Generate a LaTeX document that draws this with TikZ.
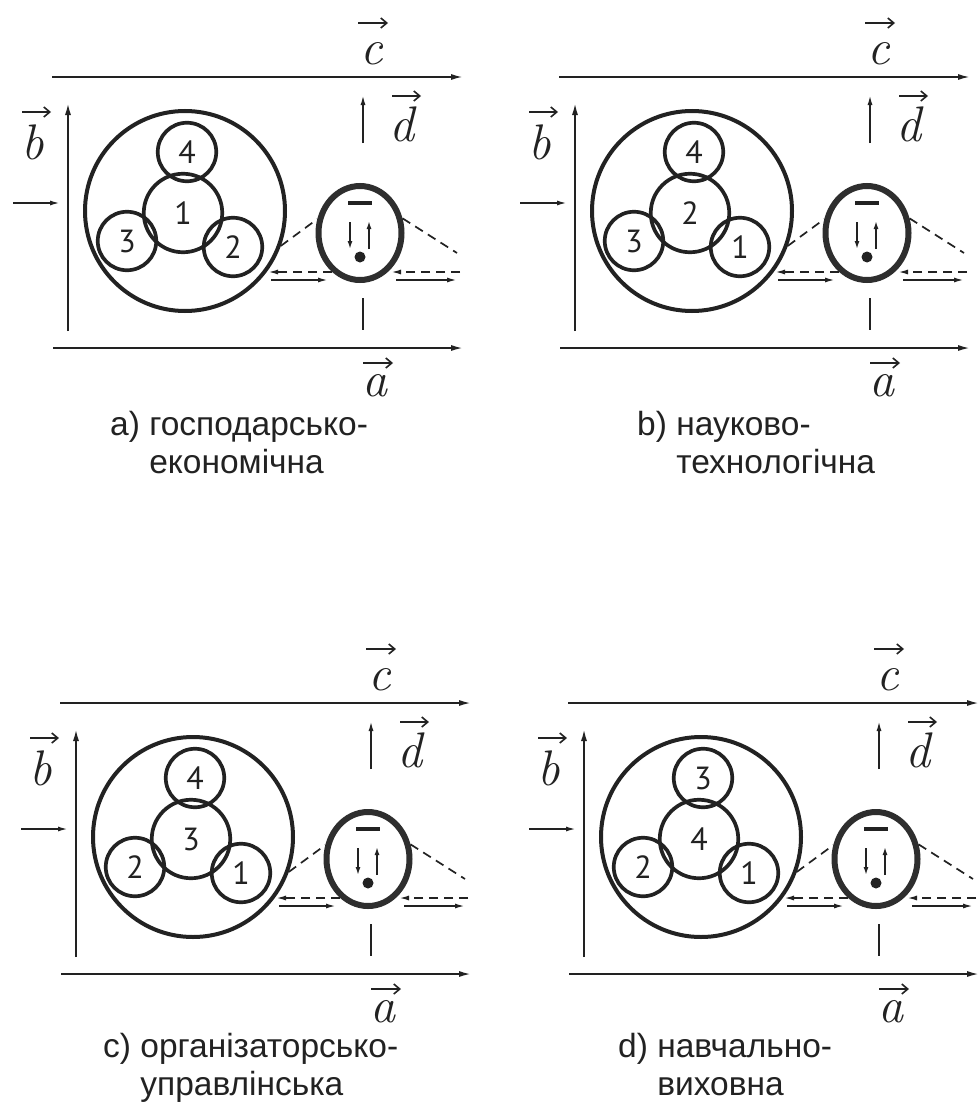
\documentclass[tikz,border=0pt]{standalone}
\usepackage{fontspec}
\newfontfamily\capfont{Liberation Sans}
\newfontfamily\numfont{PT Sans}
\usetikzlibrary{shapes.geometric,arrows.meta}
\definecolor{ink}{HTML}{222222}
\tikzset{
  axarrow/.style={draw=ink, line width=1.8pt, -{Latex[length=12pt,width=6pt]}},
  smallarr/.style={draw=ink, line width=1.7pt, -{Latex[length=10pt,width=5pt]}},
  tinyarr/.style={draw=ink, line width=1.5pt, -{Latex[length=8pt,width=5pt]}},
  bigcirc/.style={circle, draw=ink, line width=4pt, minimum size=200pt, inner sep=0pt},
  subcirc/.style={circle, draw=ink, line width=3.7pt, minimum size=58.5pt, inner sep=0pt,
     font=\numfont\fontsize{32}{32}\selectfont, text=ink},
  corecirc/.style={subcirc, minimum size=78.5pt},
  cellell/.style={ellipse, draw=black!82, line width=6pt, minimum width=83pt, minimum height=94pt, inner sep=0pt},
  vlab/.style={font=\fontsize{50}{50}\selectfont\itshape, text=ink, inner sep=0pt},
  vecarr/.style={draw=ink, line width=1.6pt, -{Straight Barb[length=6pt,width=10pt]}},
  dashline/.style={draw=ink, line width=1.7pt, dash pattern=on 9pt off 6pt},
  dasharr/.style={dashline, -{Latex[length=10pt,width=5pt]}},
  captxt/.style={font=\capfont\fontsize{33.5}{38}\selectfont, text=ink, inner sep=0pt, anchor=base west},
}
\newcommand\drawpanel[7]{%
\begin{scope}[shift={(#2,#3)}]
  % frame arrows
  \coordinate (#1cs) at (52,77);  \coordinate (#1ce) at (463,77);
  \coordinate (#1as) at (53,348); \coordinate (#1ae) at (463,348);
  \coordinate (#1bs) at (68,331); \coordinate (#1be) at (68,103);
  \coordinate (#1ls) at (13,203); \coordinate (#1le) at (60,203);
  \draw[axarrow] (#1cs) -- (#1ce);
  \draw[axarrow] (#1as) -- (#1ae);
  \draw[axarrow] (#1bs) -- (#1be);
  \draw[smallarr] (#1ls) -- (#1le);
  % vector labels
  \node[vlab] (#1lc) at (372,54) {c};
  \node[vlab] (#1la) at (375,386) {a};
  \node[vlab] (#1lb) at (33,142) {b};
  \node[vlab] (#1ld) at (402,124) {d};
  \draw[vecarr] ([shift={(-14,-31)}]#1lc.center) -- ++(30,0);
  \draw[vecarr] ([shift={(-12,-23)}]#1la.center) -- ++(30,0);
  \draw[vecarr] ([shift={(-11,-30)}]#1lb.center) -- ++(29,0);
  \draw[vecarr] ([shift={(-10,-28)}]#1ld.center) -- ++(29,0);
  % circles
  \node[bigcirc] (#1big) at (185,211) {};
  \node[corecirc] (#1mid) at (183,213) {#5};
  \node[subcirc] (#1top) at (187,152) {#4};
  \node[subcirc] (#1lft) at (127,241) {#6};
  \node[subcirc] (#1rgt) at (233,247) {#7};
  % cell
  \node[cellell] (#1cell) at (360,233) {};
  \draw[ink, line width=3.2pt] ([shift={(-12,-30)}]#1cell.center) -- ++(24,0);
  \draw[tinyarr] ([shift={(-10,-11)}]#1cell.center) -- ++(0,27);
  \draw[tinyarr] ([shift={(9,16)}]#1cell.center) -- ++(0,-28);
  \fill[ink] ([shift={(0,24)}]#1cell.center) circle (5.5pt);
  % d arrow and tick
  \coordinate (#1ds) at (363,143); \coordinate (#1de) at (363,95);
  \draw[smallarr] (#1ds) -- (#1de);
  \coordinate (#1ts) at (363,298); \coordinate (#1te) at (363,330);
  \draw[ink, line width=1.8pt] (#1ts) -- (#1te);
  % dashed tangents
  \coordinate (#1rd) at (457,253);
  \draw[dashline] (#1big.-20) -- (#1cell.162);
  \draw[dashline] (#1cell.19) -- (#1rd);
  % horizontal dashed (leftwards) and solid (rightwards) arrows
  \coordinate (#1h1s) at (332,272); \coordinate (#1h1e) at (268,272);
  \coordinate (#1h2s) at (460,272); \coordinate (#1h2e) at (391,272);
  \draw[dasharr] (#1h1s) -- (#1h1e);
  \draw[dasharr] (#1h2s) -- (#1h2e);
  \coordinate (#1s1s) at (271,280); \coordinate (#1s1e) at (328,280);
  \coordinate (#1s2s) at (396,280); \coordinate (#1s2e) at (457,280);
  \draw[smallarr] (#1s1s) -- (#1s1e);
  \draw[smallarr] (#1s2s) -- (#1s2e);
\end{scope}}
\begin{document}
\begin{tikzpicture}[x=1pt,y=-1pt]
\fill[white] (0,0) rectangle (978,1108);
\useasboundingbox (0,0) rectangle (978,1108);
\begin{scope}
\clip (0,0) rectangle (978,1108);
\drawpanel{pa}{0}{0}{4}{1}{3}{2}
\drawpanel{pb}{507}{0}{4}{2}{3}{1}
\drawpanel{pc}{8}{626}{4}{3}{2}{1}
\drawpanel{pd}{516}{626}{3}{4}{2}{1}
\end{scope}
\node[captxt] (capa) at (110,435) {\begin{tabular}[t]{@{}l@{\ }l@{}}a) & господарсько-\\ & економічна\end{tabular}};
\node[captxt] (capb) at (637,435) {\begin{tabular}[t]{@{}l@{\ }l@{}}b) & науково-\\ & технологічна\end{tabular}};
\node[captxt] (capc) at (103,1057) {\begin{tabular}[t]{@{}l@{\ }l@{}}c) & організаторсько-\\ & управлінська\end{tabular}};
\node[captxt] (capd) at (618,1057) {\begin{tabular}[t]{@{}l@{\ }l@{}}d) & навчально-\\ & виховна\end{tabular}};
\end{tikzpicture}
\end{document}
